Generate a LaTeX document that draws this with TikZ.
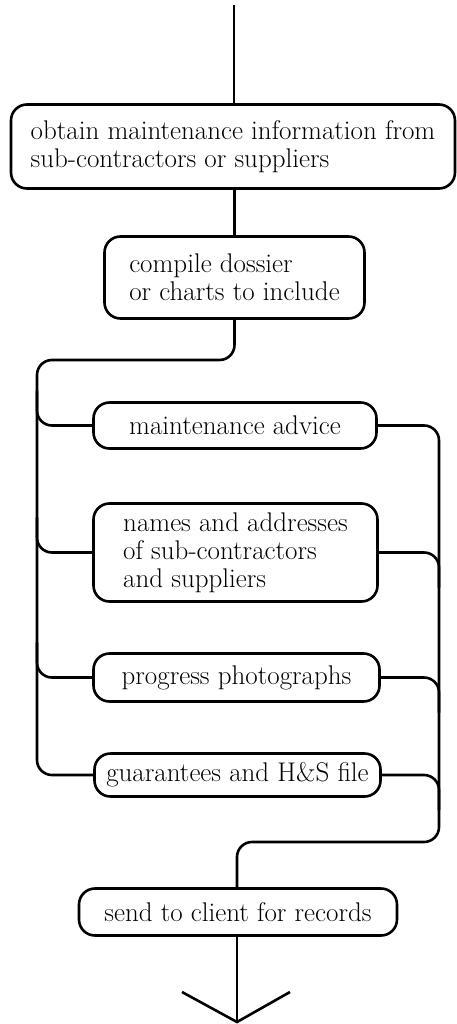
\documentclass[tikz,border=0pt]{standalone}
\usetikzlibrary{calc}

\tikzset{
  stage/.style={draw, rounded corners=16pt, line width=2.6pt, align=left,
    inner sep=0pt, font=\fontsize{27}{28}\selectfont},
  link/.style={line width=2.6pt, rounded corners=15pt}
}

\begin{document}
\begin{tikzpicture}[x=1pt, y=-1pt]
  \useasboundingbox (0,0) rectangle (457,1024);
  \coordinate (in) at (234,5);
  \node[stage, minimum width=444pt, minimum height=84pt] (obtain) at (233,146.5)
    {obtain maintenance information from\\sub-contractors or suppliers};
  \node[stage, minimum width=260pt, minimum height=82pt] (compile) at (234.5,277.5)
    {compile dossier\\or charts to include};
  \node[stage, minimum width=283pt, minimum height=46pt] (advice) at (235,425.5)
    {maintenance advice};
  \node[stage, minimum width=284pt, minimum height=98pt] (names) at (235.5,552.5)
    {names and addresses\\of sub-contractors\\and suppliers};
  \node[stage, minimum width=286pt, minimum height=48pt] (photos) at (236.5,677.5)
    {progress photographs};
  \node[stage, minimum width=286pt, minimum height=43pt] (guar) at (237.5,775)
    {guarantees and H\&S file};
  \node[stage, minimum width=318pt, minimum height=47pt] (send) at (238,912)
    {send to client for records};
  \coordinate (lrail) at (37,360);
  \coordinate (rrail) at (439,842);
  \coordinate (out) at (237,1022);

  \draw[link] (in) -- (in |- obtain.north);
  \draw[link] (compile.north |- obtain.south) -- (compile.north);
  % fan out to the four parts of the dossier
  \draw[link] (compile.south) |- (lrail) |- (guar.west);
  \foreach \n in {advice,names,photos}
    \draw[link] (\n.west) -| ($(lrail |- \n.west)+(0,-35)$);
  % and gather them again
  \draw[link] (advice.east) -| (rrail) -| (out |- send.north);
  \foreach \n in {names,photos,guar}
    \draw[link] (\n.east) -| ($(rrail |- \n.east)+(0,35)$);
  \draw[link] (out |- send.south) -- (out);
  \draw[line width=2.6pt] ($(out)+(-55,-30)$) -- (out) -- ($(out)+(53,-30)$);
\end{tikzpicture}
\end{document}
